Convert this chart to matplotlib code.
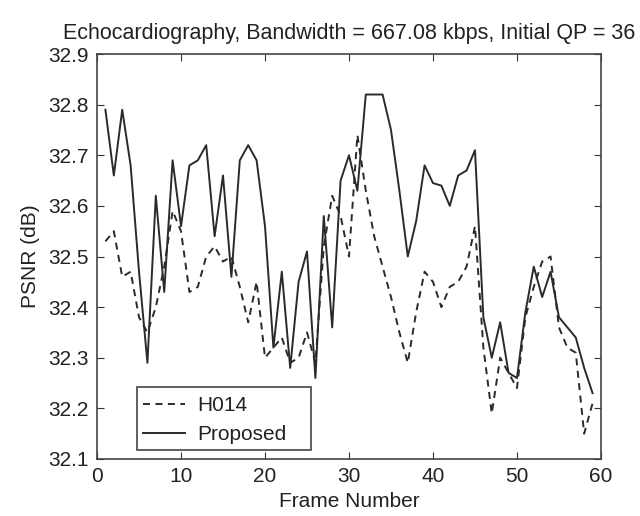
import matplotlib
matplotlib.use("Agg")
import matplotlib.pyplot as plt
from matplotlib.patches import Rectangle

plt.rcParams['font.family'] = ['Liberation Sans', 'DejaVu Sans']

frames = list(range(1, 60))
h014 = [32.53, 32.55, 32.46, 32.47, 32.38, 32.35, 32.40, 32.48, 32.59, 32.55,
        32.43, 32.44, 32.50, 32.52, 32.49, 32.50, 32.44, 32.37, 32.45, 32.30,
        32.32, 32.34, 32.29, 32.30, 32.35, 32.29, 32.52, 32.62, 32.58, 32.50,
        32.74, 32.63, 32.54, 32.48, 32.42, 32.35, 32.29, 32.39, 32.47, 32.45,
        32.40, 32.44, 32.45, 32.48, 32.56, 32.32, 32.19, 32.30, 32.27, 32.24,
        32.38, 32.44, 32.49, 32.50, 32.36, 32.32, 32.31, 32.15, 32.21]
proposed = [32.79, 32.66, 32.79, 32.68, 32.47, 32.29, 32.62, 32.43, 32.69, 32.56,
            32.68, 32.69, 32.72, 32.54, 32.66, 32.46, 32.69, 32.72, 32.69, 32.56,
            32.32, 32.47, 32.28, 32.45, 32.51, 32.26, 32.58, 32.36, 32.65, 32.70,
            32.63, 32.82, 32.82, 32.82, 32.75, 32.63, 32.50, 32.57, 32.68, 32.645,
            32.64, 32.60, 32.66, 32.67, 32.71, 32.38, 32.30, 32.37, 32.27, 32.26,
            32.39, 32.48, 32.42, 32.47, 32.38, 32.36, 32.34, 32.28, 32.23]

xticks = [0, 10, 20, 30, 40, 50, 60]
yticks = [32.1, 32.2, 32.3, 32.4, 32.5, 32.6, 32.7, 32.8, 32.9]

fig = plt.figure(figsize=(6.4, 5.16), dpi=100)
ax = fig.add_axes([0.1516, 0.1105, 0.7874, 0.7848])

lc = '#2a2a2a'
ax.plot(frames, h014, linestyle=(0, (3.6, 2.8)), color=lc, linewidth=1.4, label='H014')
ax.plot(frames, proposed, linestyle='-', color=lc, linewidth=1.4, label='Proposed')

ax.set_xlim(0, 60)
ax.set_ylim(32.1, 32.9)
ax.set_xticks(xticks)
ax.set_yticks(yticks)
ax.set_yticklabels([f"{v:.1f}" for v in yticks])
ax.tick_params(direction='in', top=True, right=True, length=5, labelsize=15,
               colors='#333333', labelcolor='#222222', pad=6)
for s in ax.spines.values():
    s.set_color('#444444')
    s.set_linewidth(1.2)

ax.set_title('Echocardiography, Bandwidth = 667.08 kbps, Initial QP = 36',
             fontsize=15.5, color='#222222', pad=11)
ax.set_xlabel('Frame Number', fontsize=15, color='#222222', labelpad=4)
ax.set_ylabel('PSNR (dB)', fontsize=15, color='#222222', labelpad=6)

leg = ax.legend(loc='lower left', bbox_to_anchor=(0.079, 0.022), borderaxespad=0,
                frameon=False, fontsize=15, handlelength=2.0, handletextpad=0.6,
                borderpad=0.3, labelspacing=0.45)
for t in leg.get_texts():
    t.set_color('#222222')
ax.add_patch(Rectangle((0.079, 0.022), 0.346, 0.156, transform=ax.transAxes,
                       fill=True, facecolor='white', edgecolor='#444444',
                       linewidth=1.2, zorder=4))
leg.set_zorder(5)

fig.savefig('out.png', dpi=100)
